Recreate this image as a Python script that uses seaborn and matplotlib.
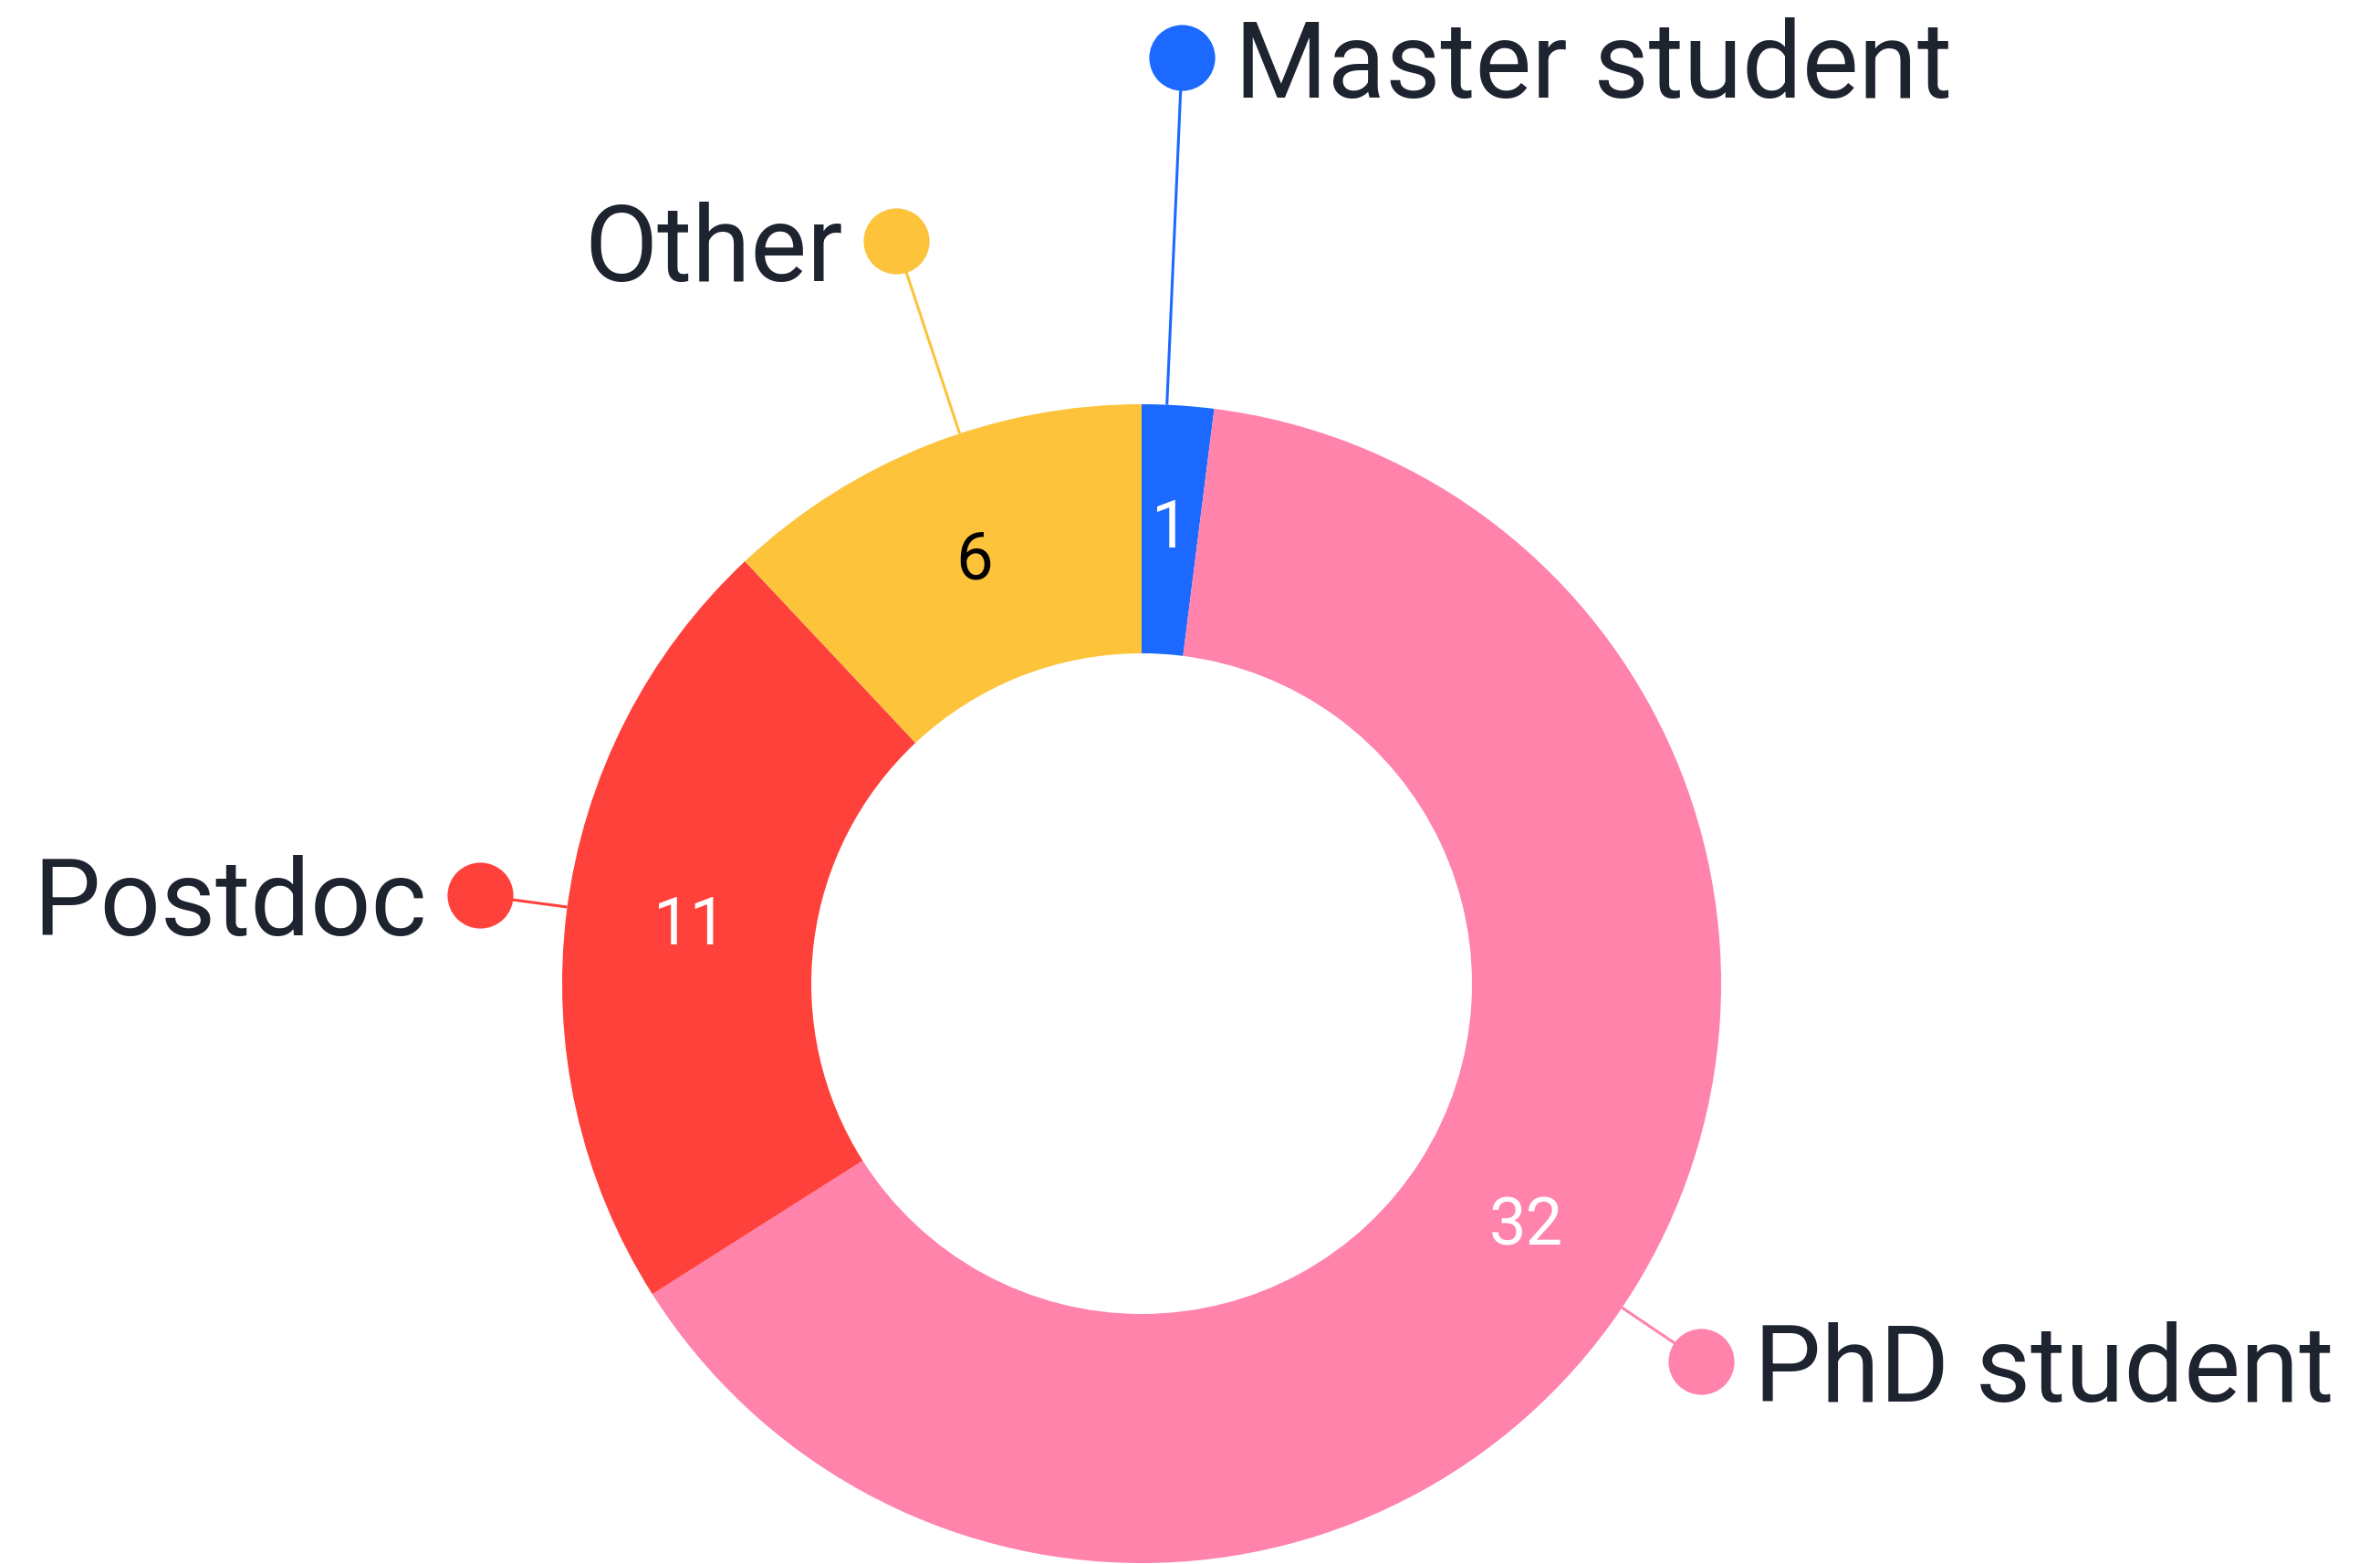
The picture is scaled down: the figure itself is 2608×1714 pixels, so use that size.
import numpy as np
import matplotlib
matplotlib.use("Agg")
import matplotlib.pyplot as plt
import seaborn as sns

# data (clockwise from 12 o'clock)
categories = ["Master student", "PhD student", "Postdoc", "Other"]
counts = [1, 32, 11, 6]
colors = ["#1b69ff", "#ff83aa", "#ff413c", "#fcc33b"]
value_colors = ["white", "white", "white", "black"]

sns.set_theme(style="white")
plt.rcParams["font.family"] = ["Roboto", "DejaVu Sans"]

W, H = 2608, 1714
fig = plt.figure(figsize=(W / 100, H / 100), dpi=100)
ax = fig.add_axes([0, 0, 1, 1])

cx, cy = 1251, 636
R = 635
ring = 273

ax.pie(counts, colors=colors, startangle=90, counterclock=False,
       radius=R, center=(cx, cy), frame=True,
       wedgeprops=dict(width=ring, linewidth=0))
ax.set_xlim(0, W)
ax.set_ylim(0, H)
ax.set_aspect("equal")
ax.axis("off")

# label placement: angle (deg, clockwise from top), distance (x R), text side
label_ang = [2.5, 124.0, 277.6, -18.3]
label_r = [1.60, 1.165, 1.152, 1.35]
side = [1, 1, -1, -1]

total = sum(counts)
start = 0.0
for i, (cat, v) in enumerate(zip(categories, counts)):
    mid = start + v / 2
    start += v
    theta = np.deg2rad(mid / total * 360)
    # value in the ring
    rm = R - ring / 2
    ax.text(cx + rm * np.sin(theta), cy + rm * np.cos(theta), str(v),
            color=value_colors[i], fontsize=52, ha="center", va="center")
    # leader line and dot
    a = np.deg2rad(label_ang[i])
    dx, dy = np.sin(a), np.cos(a)
    x0, y0 = cx + R * dx, cy + R * dy
    x1, y1 = cx + label_r[i] * R * dx, cy + label_r[i] * R * dy
    ax.plot([x0, x1], [y0, y1], color=colors[i], lw=2.2, solid_capstyle="butt")
    ax.plot(x1, y1, "o", color=colors[i], markersize=52, markeredgewidth=0)
    ax.text(x1 + side[i] * 58, y1, cat, color="#1e2330", fontsize=84,
            ha="left" if side[i] > 0 else "right", va="center_baseline")

fig.savefig("out.png", dpi=100, facecolor="white")
